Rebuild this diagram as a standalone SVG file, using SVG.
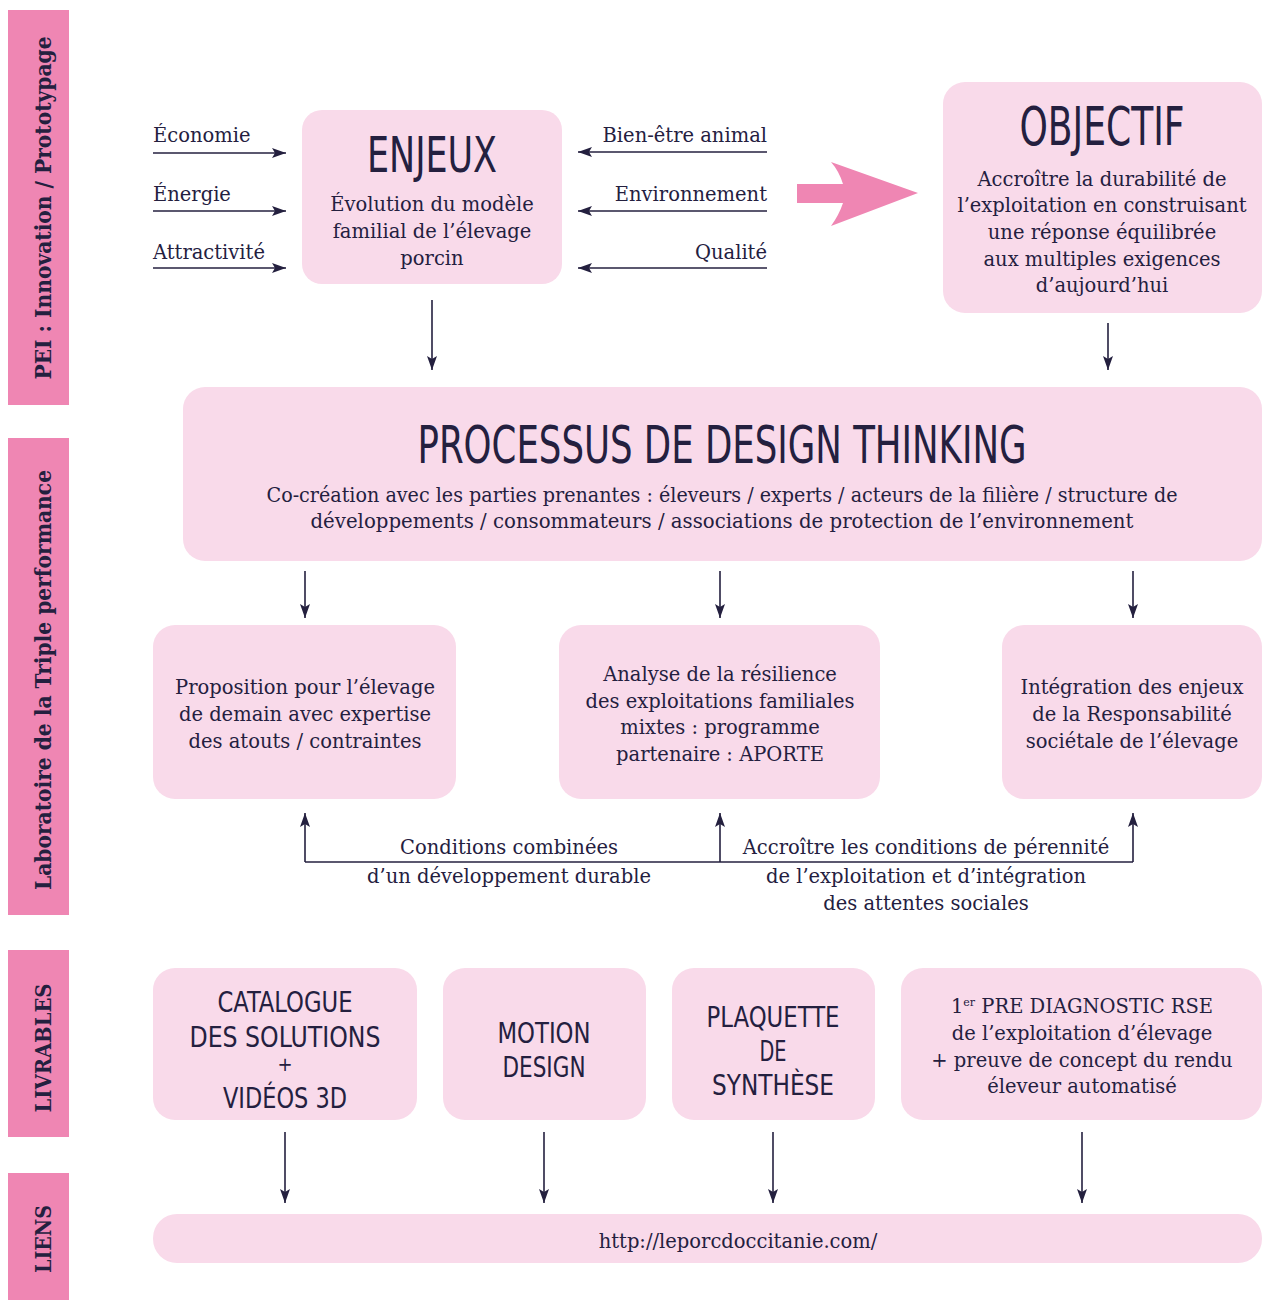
<svg xmlns="http://www.w3.org/2000/svg" width="1263" height="1300" viewBox="0 0 1263 1300">
<defs>
<style>
.side{fill:#ef86b3}
.box{fill:#f9daea}
.t{font-family:"DejaVu Serif","Liberation Serif",serif;font-size:19.5px;fill:#24203f}
.c{text-anchor:middle}
.e{text-anchor:end}
.sl{font-family:"DejaVu Serif","Liberation Serif",serif;font-weight:bold;font-size:22px;fill:#24203f;text-anchor:middle}
.h{font-family:"DejaVu Sans Condensed","DejaVu Sans",sans-serif;fill:#24203f;text-anchor:middle}
.lv{font-size:28px}
.ln{stroke:#24203f;stroke-width:1.6;fill:none}
.arr{marker-end:url(#ah)}
</style>
<marker id="ah" markerUnits="userSpaceOnUse" markerWidth="14" markerHeight="12" viewBox="0 0 14 10" refX="14" refY="5" orient="auto">
<path d="M0,0 L14,5 L0,10 L3,5 Z" fill="#24203f"/>
</marker>
</defs>
<rect width="1263" height="1300" fill="#ffffff"/>

<g id="sidebars">
<g id="side-pei">
<rect class="side" x="8" y="10" width="61" height="395"/>
<text class="sl" transform="translate(51,208) rotate(-90)" textLength="343" lengthAdjust="spacingAndGlyphs">PEI : Innovation / Prototypage</text>
</g>
<g id="side-labo">
<rect class="side" x="8" y="438" width="61" height="477"/>
<text class="sl" transform="translate(51,680) rotate(-90)" textLength="420" lengthAdjust="spacingAndGlyphs">Laboratoire de la Triple performance</text>
</g>
<g id="side-livrables">
<rect class="side" x="8" y="950" width="61" height="187"/>
<text class="sl" transform="translate(51,1048) rotate(-90)" textLength="129" lengthAdjust="spacingAndGlyphs">LIVRABLES</text>
</g>
<g id="side-liens">
<rect class="side" x="8" y="1173" width="61" height="127"/>
<text class="sl" transform="translate(51,1239) rotate(-90)" textLength="68" lengthAdjust="spacingAndGlyphs">LIENS</text>
</g>
</g>

<g id="connectors">
<path class="ln arr" d="M153,153 H286"/>
<path class="ln arr" d="M153,211 H286"/>
<path class="ln arr" d="M153,268 H286"/>
<path class="ln arr" d="M767,152 H578"/>
<path class="ln arr" d="M767,211 H578"/>
<path class="ln arr" d="M767,268 H578"/>
<path class="ln arr" d="M432,300 V370"/>
<path class="ln arr" d="M1108,323 V370"/>
<path class="ln arr" d="M305,571 V618"/>
<path class="ln arr" d="M720,571 V618"/>
<path class="ln arr" d="M1133,571 V618"/>
<path class="ln" d="M305,862 H1133"/>
<path class="ln arr" d="M305,862 V813"/>
<path class="ln arr" d="M720,862 V813"/>
<path class="ln arr" d="M1133,862 V813"/>
<path class="ln arr" d="M285,1132 V1203"/>
<path class="ln arr" d="M544,1132 V1203"/>
<path class="ln arr" d="M773,1132 V1203"/>
<path class="ln arr" d="M1082,1132 V1203"/>
<path id="pink-arrow" d="M797,184 L843,184 Q839,171 831,162 L918,193 L831,226 Q839,215 843,203 L797,203 Z" fill="#ef86b3"/>
</g>

<g id="labels">
<text class="t" x="153" y="142">Économie</text>
<text class="t" x="153" y="201">Énergie</text>
<text class="t" x="153" y="259">Attractivité</text>
<text class="t e" x="767" y="142">Bien-être animal</text>
<text class="t e" x="767" y="201">Environnement</text>
<text class="t e" x="767" y="259">Qualité</text>
<text class="t c" x="509" y="854">Conditions combinées</text>
<text class="t c" x="509" y="883">d’un développement durable</text>
<text class="t c" x="926" y="854">Accroître les conditions de pérennité</text>
<text class="t c" x="926" y="883">de l’exploitation et d’intégration</text>
<text class="t c" x="926" y="910">des attentes sociales</text>
</g>

<g id="enjeux">
<rect class="box" x="302" y="110" width="260" height="174" rx="20"/>
<text class="h" x="432" y="172" font-size="50" textLength="130" lengthAdjust="spacingAndGlyphs">ENJEUX</text>
<text class="t c" x="432" y="211">Évolution du modèle</text>
<text class="t c" x="432" y="238">familial de l’élevage</text>
<text class="t c" x="432" y="265">porcin</text>
</g>

<g id="objectif">
<rect class="box" x="943" y="82" width="319" height="231" rx="22"/>
<text class="h" x="1102" y="145" font-size="54" textLength="165" lengthAdjust="spacingAndGlyphs">OBJECTIF</text>
<text class="t c" x="1102" y="186">Accroître la durabilité de</text>
<text class="t c" x="1102" y="212">l’exploitation en construisant</text>
<text class="t c" x="1102" y="239">une réponse équilibrée</text>
<text class="t c" x="1102" y="266">aux multiples exigences</text>
<text class="t c" x="1102" y="292">d’aujourd’hui</text>
</g>

<g id="processus">
<rect class="box" x="183" y="387" width="1079" height="174" rx="22"/>
<text class="h" x="722" y="463" font-size="52" textLength="609" lengthAdjust="spacingAndGlyphs">PROCESSUS DE DESIGN THINKING</text>
<text class="t c" x="722" y="502" textLength="911" lengthAdjust="spacingAndGlyphs">Co-création avec les parties prenantes : éleveurs / experts / acteurs de la filière / structure de</text>
<text class="t c" x="722" y="528" textLength="823" lengthAdjust="spacingAndGlyphs">développements / consommateurs / associations de protection de l’environnement</text>
</g>

<g id="proposition">
<rect class="box" x="153" y="625" width="303" height="174" rx="22"/>
<text class="t c" x="305" y="694">Proposition pour l’élevage</text>
<text class="t c" x="305" y="721">de demain avec expertise</text>
<text class="t c" x="305" y="748">des atouts / contraintes</text>
</g>

<g id="analyse">
<rect class="box" x="559" y="625" width="321" height="174" rx="22"/>
<text class="t c" x="720" y="681">Analyse de la résilience</text>
<text class="t c" x="720" y="708">des exploitations familiales</text>
<text class="t c" x="720" y="734">mixtes : programme</text>
<text class="t c" x="720" y="761">partenaire : APORTE</text>
</g>

<g id="integration">
<rect class="box" x="1002" y="625" width="260" height="174" rx="22"/>
<text class="t c" x="1132" y="694">Intégration des enjeux</text>
<text class="t c" x="1132" y="721">de la Responsabilité</text>
<text class="t c" x="1132" y="748">sociétale de l’élevage</text>
</g>

<g id="catalogue">
<rect class="box" x="153" y="968" width="264" height="152" rx="22"/>
<text class="h lv" x="285" y="1012" textLength="135" lengthAdjust="spacingAndGlyphs">CATALOGUE</text>
<text class="h lv" x="285" y="1047" textLength="191" lengthAdjust="spacingAndGlyphs">DES SOLUTIONS</text>
<text class="h" x="285" y="1071" font-size="20">+</text>
<text class="h lv" x="285" y="1108" textLength="124" lengthAdjust="spacingAndGlyphs">VIDÉOS 3D</text>
</g>

<g id="motion">
<rect class="box" x="443" y="968" width="203" height="152" rx="22"/>
<text class="h lv" x="544" y="1043" textLength="93" lengthAdjust="spacingAndGlyphs">MOTION</text>
<text class="h lv" x="544" y="1077" textLength="83" lengthAdjust="spacingAndGlyphs">DESIGN</text>
</g>

<g id="plaquette">
<rect class="box" x="672" y="968" width="203" height="152" rx="22"/>
<text class="h lv" x="773" y="1027" textLength="133" lengthAdjust="spacingAndGlyphs">PLAQUETTE</text>
<text class="h lv" x="773" y="1061" textLength="27" lengthAdjust="spacingAndGlyphs">DE</text>
<text class="h lv" x="773" y="1095" textLength="122" lengthAdjust="spacingAndGlyphs">SYNTHÈSE</text>
</g>

<g id="diagnostic">
<rect class="box" x="901" y="968" width="361" height="152" rx="22"/>
<text class="t c" x="1082" y="1013">1<tspan font-size="11" dy="-7">er</tspan><tspan dy="7"> PRE DIAGNOSTIC RSE</tspan></text>
<text class="t c" x="1082" y="1040">de l’exploitation d’élevage</text>
<text class="t c" x="1082" y="1067">+ preuve de concept du rendu</text>
<text class="t c" x="1082" y="1093">éleveur automatisé</text>
</g>

<g id="lien">
<rect class="box" x="153" y="1214" width="1109" height="49" rx="24"/>
<text class="t c" x="738" y="1248">http://leporcdoccitanie.com/</text>
</g>
</svg>
